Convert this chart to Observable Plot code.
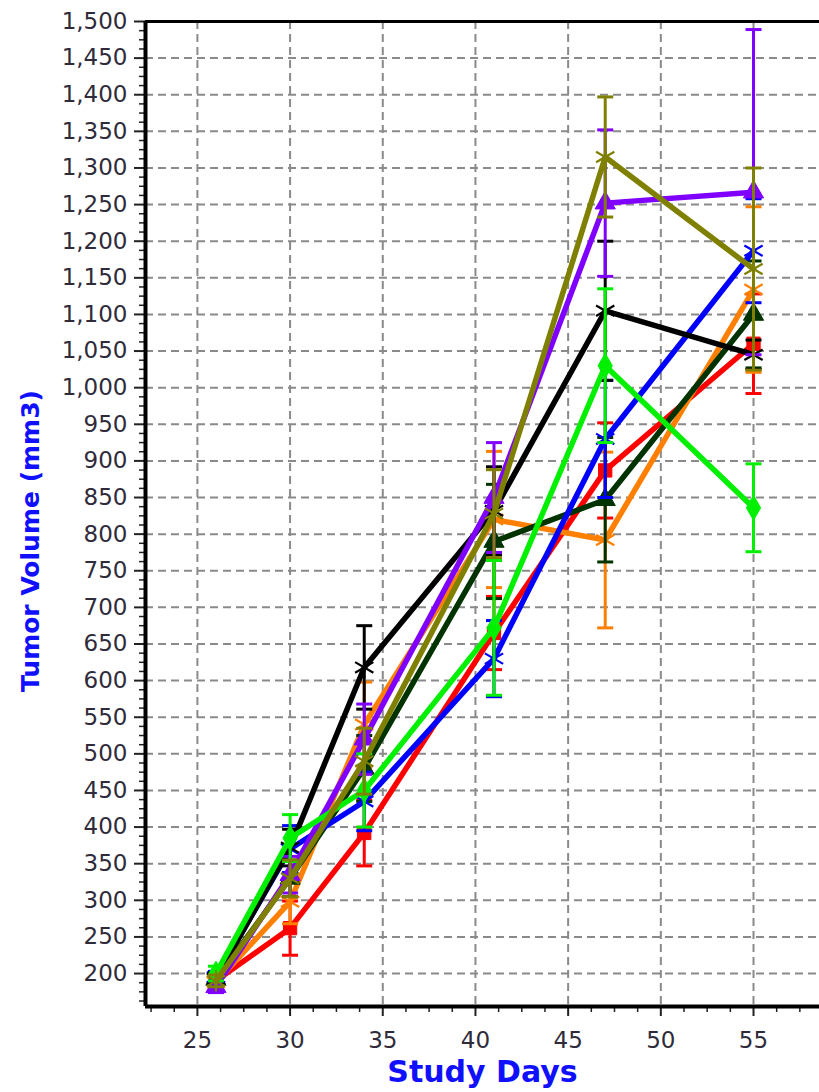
<!DOCTYPE html>
<html>
<head>
<meta charset="utf-8">
<script src="https://cdn.jsdelivr.net/npm/d3@7"></script>
<script src="https://cdn.jsdelivr.net/npm/@observablehq/plot@0.6"></script>
<style>
  html, body { margin: 0; padding: 0; background: #fff; overflow: hidden; }
</style>
</head>
<body>
<div id="chart"></div>
<script>
// Study days at which tumours were measured
const studyDays = [26, 30, 34, 41, 47, 55];

// Mean tumour volume (mm3) and error per treatment group
const group1Mean = [190, 262, 392, 665, 887, 1060];
const group1Err  = [8, 37, 45, 50, 65, 68];
const group2Mean = [195, 370, 435, 630, 930, 1187];
const group2Err  = [8, 32, 40, 52, 80, 71];
const group3Mean = [188, 298, 540, 820, 792, 1134];
const group3Err  = [8, 30, 58, 93, 120, 113];
const group4Mean = [192, 330, 480, 790, 847, 1100];
const group4Err  = [8, 25, 45, 78, 85, 73];
const group5Mean = [193, 372, 618, 832, 1105, 1045];
const group5Err  = [8, 25, 57, 60, 95, 20];
const group6Mean = [182, 335, 520, 850, 1252, 1267];
const group6Err  = [8, 25, 48, 75, 100, 222];
const group7Mean = [190, 330, 490, 828, 1315, 1162];
const group7Err  = [8, 25, 45, 60, 82, 138];
const group8Mean = [200, 385, 450, 672, 1030, 836];
const group8Err  = [10, 32, 50, 92, 105, 60];

// Axis ticks
const yTicks = d3.range(200, 1501, 50);
const yMinorTicks = d3.range(162.5, 1500, 12.5).filter(v => v % 50 !== 0);
const xTicks = [25, 30, 35, 40, 45, 50, 55];
const xMinorTicks = d3.range(22.5, 58.6, 1.25).filter(v => v % 5 !== 0);

// Group styling, in drawing order (last on top)
const groups = [
  {mean: group1Mean, err: group1Err, color: "#ff0000", symbol: "square",    filled: true},
  {mean: group3Mean, err: group3Err, color: "#ff8000", symbol: "asterisk",  filled: false},
  {mean: group4Mean, err: group4Err, color: "#003300", symbol: "triangle",  filled: true},
  {mean: group2Mean, err: group2Err, color: "#0000ff", symbol: "asterisk",  filled: false},
  {mean: group5Mean, err: group5Err, color: "#000000", symbol: "asterisk",  filled: false},
  {mean: group6Mean, err: group6Err, color: "#8000ff", symbol: "triangle",  filled: true},
  {mean: group8Mean, err: group8Err, color: "#00f000", symbol: "diamond",   filled: true},
  {mean: group7Mean, err: group7Err, color: "#808000", symbol: "asterisk",  filled: false}
];

// Horizontal cap drawn at the ends of each error bar
const capSymbol = {
  draw(context, size) {
    const r = Math.sqrt(size / Math.PI);
    context.moveTo(-r, 0);
    context.lineTo(r, 0);
  }
};

const xDomain = [22.2, 58.56];
const yDomain = [155, 1500];
const labelColor = "#2f2b3a";
const titleColor = "#1010ff";

const groupMarks = groups.flatMap(g => {
  const rows = studyDays.map((day, i) => ({
    day, mean: g.mean[i], lo: g.mean[i] - g.err[i], hi: g.mean[i] + g.err[i]
  }));
  return [
    Plot.ruleX(rows, {x: "day", y1: "lo", y2: "hi", stroke: g.color, strokeWidth: 3}),
    Plot.dot(rows, {x: "day", y: "lo", symbol: capSymbol, r: 8, fill: "none", stroke: g.color, strokeWidth: 3}),
    Plot.dot(rows, {x: "day", y: "hi", symbol: capSymbol, r: 8, fill: "none", stroke: g.color, strokeWidth: 3}),
    Plot.line(rows, {x: "day", y: "mean", stroke: g.color, strokeWidth: 5.5, strokeLinejoin: "round"}),
    Plot.dot(rows, g.filled
      ? {x: "day", y: "mean", symbol: g.symbol, r: 7.5, fill: g.color, stroke: g.color, strokeWidth: 1}
      : {x: "day", y: "mean", symbol: g.symbol, r: 10, fill: "none", stroke: g.color, strokeWidth: 2.2})
  ];
});

const chart = Plot.plot({
  width: 819,
  height: 1092,
  marginLeft: 145,
  marginRight: 0,
  marginTop: 21,
  marginBottom: 86,
  style: {fontFamily: "DejaVu Sans", background: "#fff"},
  x: {domain: xDomain, label: null},
  y: {domain: yDomain, label: null},
  marks: [
    Plot.gridY(yTicks, {stroke: "#8a8a8a", strokeOpacity: 1, strokeWidth: 2, strokeDasharray: "8,5"}),
    Plot.gridX(xTicks, {stroke: "#8a8a8a", strokeOpacity: 1, strokeWidth: 2, strokeDasharray: "8,5"}),
    Plot.axisY(yMinorTicks, {tickSize: 6, tickFormat: () => "", stroke: "#222", strokeWidth: 1.5, label: null}),
    Plot.axisY(yTicks, {
      tickSize: 11, tickPadding: 7, tickFormat: d3.format(","), fontSize: 23,
      fill: labelColor, stroke: "#222", strokeWidth: 2, label: null
    }),
    Plot.axisX(xMinorTicks, {tickSize: 6, tickFormat: () => "", stroke: "#222", strokeWidth: 1.5, label: null}),
    Plot.axisX(xTicks, {
      tickSize: 10, tickPadding: 15, fontSize: 23,
      fill: labelColor, stroke: "#222", strokeWidth: 2, label: null
    }),
    ...groupMarks,
    Plot.ruleY([yDomain[1]], {stroke: "#000", strokeWidth: 3}),
    Plot.ruleY([yDomain[0]], {stroke: "#000", strokeWidth: 4}),
    Plot.ruleX([xDomain[0]], {stroke: "#000", strokeWidth: 4}),
    Plot.text(["Tumor Volume (mm3)"], {
      text: d => d, frameAnchor: "left", textAnchor: "middle", rotate: -90, dx: -115, dy: 27,
      fontSize: 25, fontWeight: "bold", fill: titleColor
    }),
    Plot.text(["Study Days"], {
      text: d => d, frameAnchor: "bottom", dy: 75,
      fontSize: 30, fontWeight: "bold", fill: titleColor
    })
  ]
});

document.getElementById("chart").append(chart);
</script>
</body>
</html>
